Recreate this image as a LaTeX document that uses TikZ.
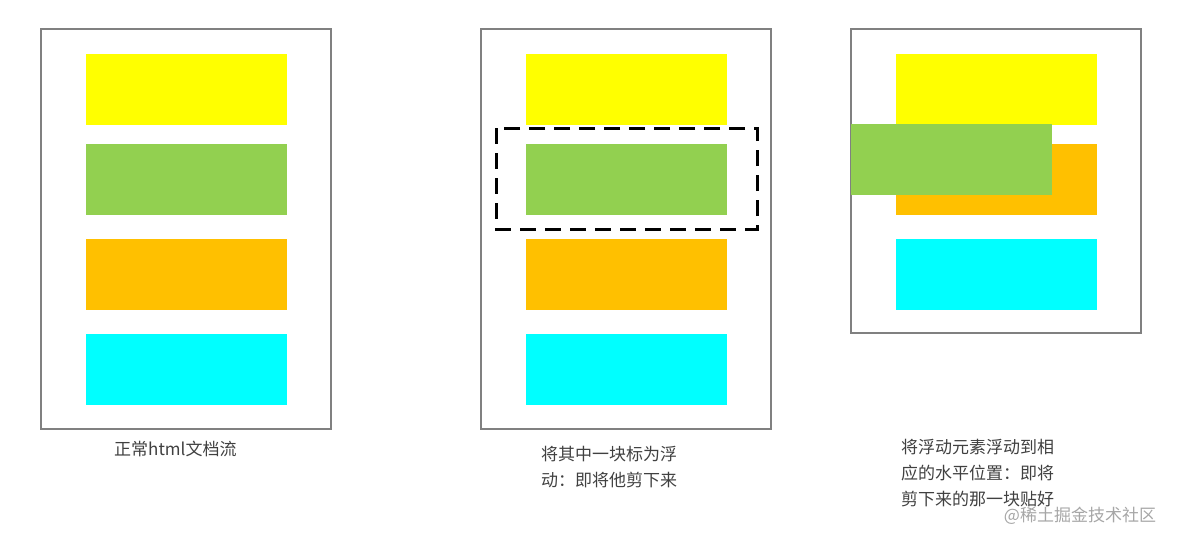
\documentclass[tikz,border=0pt]{standalone}
\usepackage{fontspec}
\setmainfont{Noto Sans CJK SC}
\definecolor{cyel}{HTML}{FFFF00}
\definecolor{cgrn}{HTML}{92D050}
\definecolor{corg}{HTML}{FFC000}
\definecolor{ccyn}{HTML}{00FFFF}
\definecolor{ctxt}{HTML}{404040}
\tikzset{
  frame/.style={draw=black!50, line width=1.2pt},
  blk/.style={minimum width=201pt, minimum height=71pt, inner sep=0pt, anchor=north west},
  captext/.style={text=ctxt, font=\fontsize{17pt}{26pt}\selectfont, align=left, anchor=north west, inner sep=0pt}
}
\begin{document}
\begin{tikzpicture}[x=1pt,y=-1pt]
  \useasboundingbox (0,0) rectangle (1177,544);
  % panel 1 and 2
  \foreach \p/\x in {one/41,two/481}{
    \draw[frame] (\x,29) rectangle +(290,400);
    \node[blk, fill=cyel] (\p-y) at (\x+45,54) {};
    \node[blk, fill=cgrn] (\p-g) at (\x+45,144) {};
    \node[blk, fill=corg] (\p-o) at (\x+45,239) {};
    \node[blk, fill=ccyn] (\p-c) at (\x+45,334) {};
  }
  \draw[line width=3pt, dash pattern=on 16pt off 9pt] (496,128) rectangle (757,229);
  % panel 3
  \draw[frame] (851,29) rectangle (1141,333);
  \node[blk, fill=cyel] (three-y) at (896,54) {};
  \node[blk, fill=corg] (three-o) at (896,144) {};
  \node[blk, fill=ccyn] (three-c) at (896,239) {};
  \node[blk, fill=cgrn] (three-g) at (851,124) {};
  % captions
  \node[captext] (cap1) at (114,441) {正常html文档流};
  \node[captext] (cap2) at (541,446) {将其中一块标为浮\\动：即将他剪下来};
  \node[captext] (cap3) at (901,439) {将浮动元素浮动到相\\应的水平位置：即将\\剪下来的那一块贴好};
  \node[text=black!35, font=\fontsize{17pt}{20pt}\selectfont, inner sep=0pt] (mark) at (1080,516) {@稀土掘金技术社区};
\end{tikzpicture}
\end{document}
